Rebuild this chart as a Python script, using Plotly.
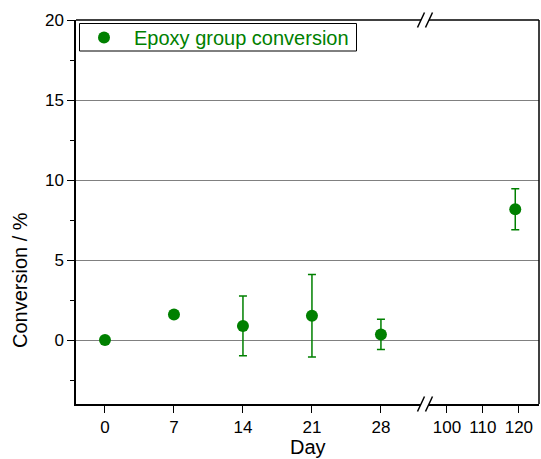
import plotly.graph_objects as go

# Data
days_left = [0, 7, 14, 21, 28]
conv_left = [0.0, 1.6, 0.88, 1.52, 0.35]
err_left = [0.0, 0.0, 1.87, 2.58, 0.95]
days_right = [119]
conv_right = [8.17]
err_right = [1.28]

y_ticks = [0, 5, 10, 15, 20]
x_ticks_left = [0, 7, 14, 21, 28]
x_ticks_right = [100, 110, 120]
series_name = "Epoxy group conversion"

GREEN = "#008000"
FONT = "Liberation Sans, Arial, sans-serif"

W, H = 541, 459
L, R, T, B = 76, 2, 20, 55
pw = W - L - R
ph = H - T - B
brk = (425 - L) / pw


def px_x(x):
    return (x - L) / pw


def px_y(y):
    return 1 - (y - T) / ph


fig = go.Figure()
fig.add_trace(go.Scatter(
    x=days_left, y=conv_left, mode="markers", name=series_name, showlegend=False,
    marker=dict(color=GREEN, size=12),
    error_y=dict(type="data", array=err_left, color=GREEN, thickness=1.5, width=4),
    xaxis="x", yaxis="y",
))
fig.add_trace(go.Scatter(
    x=days_right, y=conv_right, mode="markers", name=series_name, showlegend=False,
    marker=dict(color=GREEN, size=12),
    error_y=dict(type="data", array=err_right, color=GREEN, thickness=1.5, width=4),
    xaxis="x2", yaxis="y",
))

axis_common = dict(
    showline=True, linecolor="black", linewidth=1.5,
    ticks="outside", ticklen=7, tickwidth=1.2, tickcolor="black",
    tickfont=dict(family=FONT, size=17, color="black"),
    showgrid=False, zeroline=False,
)

fig.update_layout(
    width=W, height=H,
    margin=dict(l=L, r=R, t=T, b=B, pad=0),
    paper_bgcolor="white", plot_bgcolor="white",
    showlegend=False,
    xaxis=dict(domain=[0, brk], range=[-2.94, 32.47], tickvals=x_ticks_left,
               anchor="y", **axis_common),
    xaxis2=dict(domain=[brk, 1], range=[93.9, 125.6], tickvals=x_ticks_right,
                anchor="y", **axis_common),
    yaxis=dict(range=[-4, 20], tickvals=y_ticks, anchor="x",
               showline=True, linecolor="black", linewidth=1.5,
               ticks="outside", ticklen=7, tickwidth=1.2, tickcolor="black",
               tickfont=dict(family=FONT, size=17, color="black"),
               showgrid=True, gridcolor="#808080", gridwidth=1, zeroline=False,
               minor=dict(dtick=2.5, tick0=0, ticks="outside", ticklen=4,
                          tickwidth=1.2, tickcolor="black", showgrid=False)),
)

# frame: top and right borders
fig.add_shape(type="line", xref="paper", yref="paper", x0=0, x1=1, y0=1, y1=1,
              line=dict(color="black", width=1.5))
fig.add_shape(type="line", xref="paper", yref="paper", x0=1, x1=1, y0=0, y1=1,
              line=dict(color="black", width=1.5))

# break marks
for yanc in (0, 1):
    fig.add_shape(type="rect", xref="paper", yref="paper", xsizemode="pixel", ysizemode="pixel",
                  xanchor=brk, yanchor=yanc, x0=-4, x1=4, y0=-3, y1=3,
                  line=dict(width=0), fillcolor="white")
    for off in (-4, 4):
        fig.add_shape(type="line", xref="paper", yref="paper", xsizemode="pixel", ysizemode="pixel",
                      xanchor=brk, yanchor=yanc, x0=off - 3.5, x1=off + 3.5, y0=-7.5, y1=7.5,
                      line=dict(color="black", width=1.5))

# legend (drawn manually for exact box size)
fig.add_shape(type="rect", xref="paper", yref="paper",
              x0=px_x(79.5), x1=px_x(356.5), y0=px_y(51), y1=px_y(23.5),
              line=dict(color="black", width=1), fillcolor="white")
fig.add_shape(type="circle", xref="paper", yref="paper", xsizemode="pixel", ysizemode="pixel",
              xanchor=px_x(104), yanchor=px_y(37.5), x0=-6, x1=6, y0=-6, y1=6,
              line=dict(width=0), fillcolor=GREEN)
fig.add_annotation(text=series_name, xref="paper", yref="paper", x=px_x(132), y=px_y(38),
                   xanchor="left", yanchor="middle", showarrow=False,
                   font=dict(family=FONT, size=20, color=GREEN))

fig.add_annotation(text="Day", xref="paper", yref="paper", x=0.5, y=0, yshift=-43,
                   xanchor="center", yanchor="middle", showarrow=False,
                   font=dict(family=FONT, size=20, color="black"))
fig.add_annotation(text="Conversion / %", xref="paper", yref="paper", x=0, xshift=-56,
                   y=px_y(280),
                   textangle=-90, xanchor="center", yanchor="middle", showarrow=False,
                   font=dict(family=FONT, size=20, color="black"))

fig.write_html("out.html")
